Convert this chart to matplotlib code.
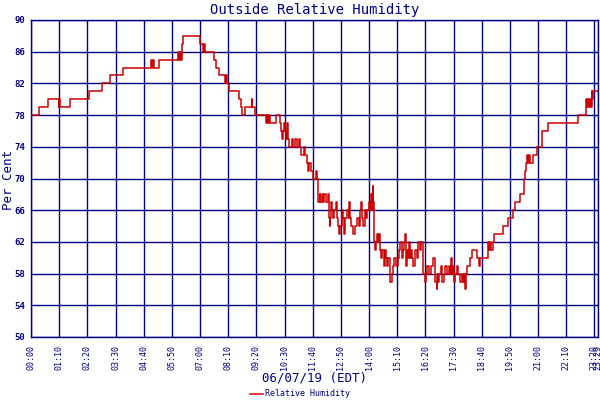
import numpy as np
import matplotlib
matplotlib.use("Agg")
import matplotlib.pyplot as plt

navy = "#000080"
red = "#cc0000"

# minutes after midnight where the reading changes, and the new reading (%)
minutes = [0, 20, 42, 69, 70, 72, 98, 144, 176, 196, 228, 299, 300, 303, 305, 318,
           366, 368, 370, 373, 375, 378, 419, 428, 431, 433, 454, 460, 468, 483, 485,
           487, 491, 517, 521, 525, 533, 548, 549, 556, 585, 587, 589, 591, 593, 609,
           620, 622, 624, 626, 628, 630, 633, 635, 637, 639, 642, 648, 651, 657, 661,
           666, 668, 672, 679, 681, 685, 689, 691, 697, 700, 707, 710, 713, 717, 719,
           722, 725, 729, 732, 738, 740, 742, 744, 746, 748, 750, 754, 758, 760, 762,
           765, 769, 772, 775, 779, 781, 785, 789, 791, 793, 795, 799, 805, 809, 814,
           818, 820, 822, 826, 829, 833, 836, 839, 843, 845, 847, 849, 851, 853, 855,
           857, 861, 863, 866, 868, 870, 873, 876, 879, 882, 885, 888, 891, 893, 897,
           900, 903, 907, 911, 915, 918, 921, 924, 927, 929, 931, 933, 935, 937, 940,
           942, 944, 946, 950, 954, 958, 962, 966, 970, 973, 975, 978, 981, 985, 989,
           993, 998, 1003, 1005, 1008, 1010, 1012, 1015, 1019, 1022, 1026, 1030, 1034,
           1038, 1041, 1043, 1046, 1048, 1051, 1054, 1058, 1062, 1066, 1070, 1073,
           1076, 1079, 1081, 1084, 1090, 1097, 1109, 1113, 1115, 1135, 1138, 1141,
           1144, 1147, 1151, 1173, 1186, 1198, 1203, 1215, 1226, 1228, 1231, 1233,
           1236, 1238, 1239, 1247, 1258, 1269, 1271, 1285, 1360, 1378, 1381, 1383,
           1386, 1389, 1391, 1393, 1395, 1397, 1409]
humidity = [78, 79, 80, 79, 80, 79, 80, 81, 82, 83, 84, 85, 84, 85, 84, 85,
            86, 85, 86, 85, 87, 88, 87, 86, 87, 86, 85, 84, 83, 82, 83,
            82, 81, 80, 79, 78, 79, 80, 79, 78, 77, 78, 77, 78, 77, 78,
            77, 76, 75, 76, 77, 76, 75, 76, 77, 75, 74, 75, 74, 75, 74,
            75, 74, 73, 74, 73, 72, 71, 72, 71, 70, 71, 70, 67, 68, 67,
            68, 67, 68, 67, 68, 65, 64, 65, 67, 66, 65, 66, 67, 65, 64,
            63, 64, 66, 65, 63, 65, 66, 65, 67, 65, 64, 63, 64, 65, 64,
            66, 67, 65, 64, 66, 65, 66, 67, 66, 68, 66, 69, 67, 62, 61,
            62, 63, 62, 63, 61, 60, 61, 59, 61, 60, 59, 60, 58, 57, 58,
            59, 60, 59, 60, 61, 62, 60, 61, 62, 63, 61, 59, 61, 60, 62,
            60, 61, 60, 59, 61, 60, 62, 61, 62, 59, 58, 57, 58, 59, 58,
            59, 60, 58, 57, 56, 58, 57, 58, 59, 57, 58, 59, 58,
            59, 58, 60, 58, 59, 57, 58, 59, 58, 57, 58, 57,
            58, 56, 58, 59, 60, 61, 60, 59, 60, 62, 61, 62,
            61, 62, 63, 64, 65, 66, 67, 68, 70, 71, 72, 73,
            72, 73, 72, 73, 74, 75, 76, 77, 78, 80, 79, 80,
            79, 80, 79, 81, 80, 81, 81]

tick_minutes = list(range(0, 1401, 70)) + [1409]
tick_labels = ["%02d:%02d" % (m // 60, m % 60) for m in tick_minutes]
y_ticks = list(range(50, 91, 4))

plt.rcParams['font.family'] = ['DejaVu Sans Mono', 'DejaVu Sans']

fig = plt.figure(figsize=(6, 4), dpi=100)
ax = fig.add_axes([31 / 600, 1 - 337 / 400, 567 / 600, 317 / 400])

ax.plot(minutes, humidity, drawstyle='steps-post', color=red, lw=1.1,
        label='Relative Humidity', zorder=3)

ax.set_xlim(0, 1409)
ax.set_ylim(50, 90)
ax.set_xticks(tick_minutes)
ax.set_xticklabels(tick_labels, rotation=90, fontsize=6, color=navy)
ax.set_yticks(y_ticks)
ax.set_yticklabels([str(v) for v in y_ticks], fontsize=6.5, color=navy,
                   fontweight='bold')
ax.tick_params(length=0, pad=4)
ax.tick_params(axis='x', pad=6)
ax.grid(True, color=navy, lw=1.0)
for s in ax.spines.values():
    s.set_color(navy)
    s.set_linewidth(1.0)

ax.set_title("Outside Relative Humidity", color=navy, fontsize=10, pad=4)
fig.text(0.525, 0.055, "06/07/19 (EDT)", color=navy, fontsize=9,
         ha='center', va='center')
fig.text(9 / 600, 1 - 180 / 400, "Per Cent", color=navy, fontsize=9,
         rotation=90, ha='center', va='center')

fig.legend(loc='lower center', bbox_to_anchor=(0.5, -0.015), frameon=False,
           fontsize=6, handlelength=1.6, handletextpad=0.3, labelcolor=navy)

fig.savefig("out.png", dpi=100)
